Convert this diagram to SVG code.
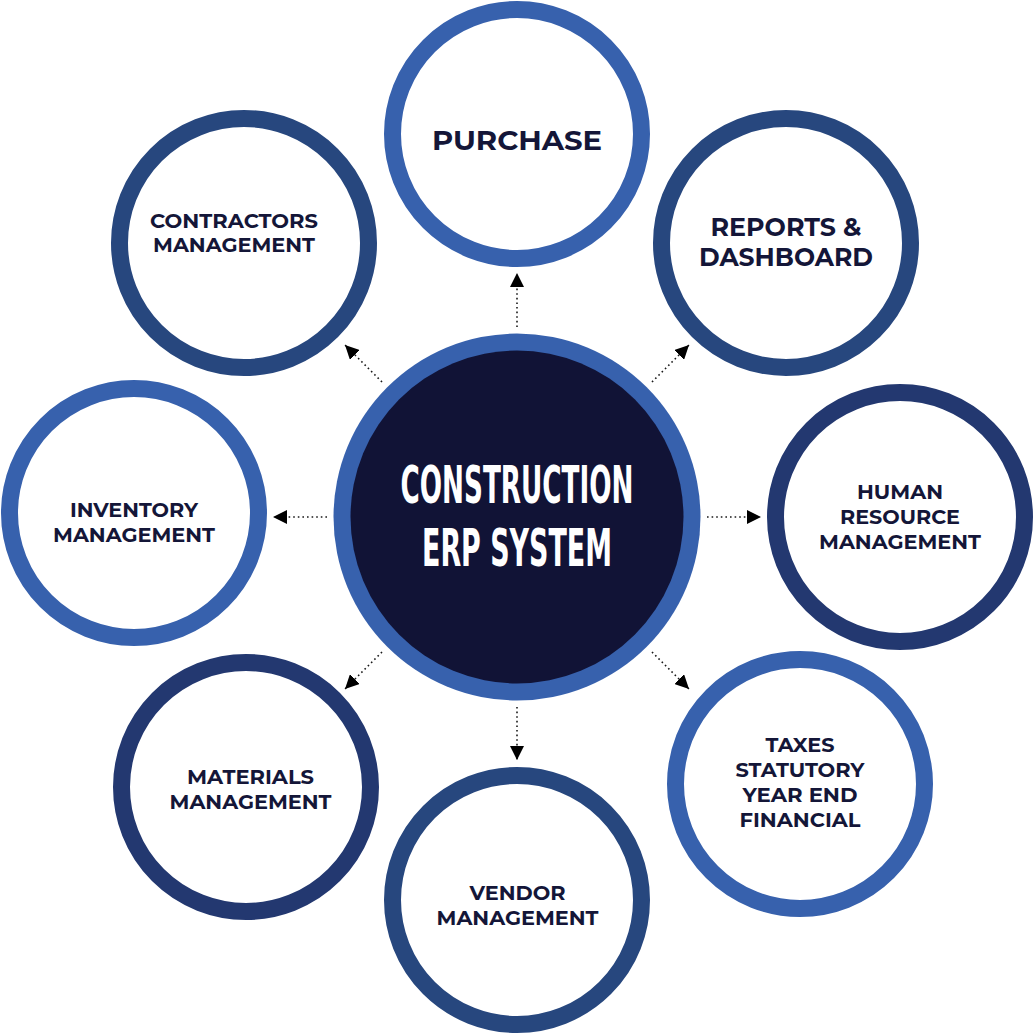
<svg xmlns="http://www.w3.org/2000/svg" width="1034" height="1034" viewBox="0 0 1034 1034">
  <style>
    .ring { fill: #ffffff; stroke-width: 17; }
    .light { stroke: #3761ad; }
    .mid { stroke: #27477e; }
    .dark { stroke: #233870; }
    .lbl { font-family: "Montserrat", "Liberation Sans", "Open Sans", Arial, sans-serif; font-weight: 700; fill: #141638; text-anchor: middle; }
    .s { font-size: 20.5px; }
    .m { font-size: 24.5px; }
    .l { font-size: 28px; }
    .ctr { font-family: "Liberation Sans Narrow", "DejaVu Sans Condensed", "Liberation Sans", sans-serif; font-weight: 700; font-size: 52px; fill: #ffffff; text-anchor: middle; }
    .conn { stroke: #1a1a1a; stroke-width: 1.6; stroke-dasharray: 1.6 3; fill: none; marker-end: url(#arr); }
  </style>
  <defs>
    <marker id="arr" markerUnits="userSpaceOnUse" markerWidth="15" markerHeight="14" refX="14" refY="7" orient="auto">
      <path d="M0,0 L14,7 L0,14 z" fill="#000000"/>
    </marker>
  </defs>
  <rect width="1034" height="1034" fill="#ffffff"/>

  <g id="connectors">
    <line class="conn" x1="517" y1="327" x2="517" y2="273"/>
    <line class="conn" x1="517" y1="707" x2="517" y2="760"/>
    <line class="conn" x1="327" y1="517" x2="273" y2="517"/>
    <line class="conn" x1="707" y1="517" x2="761" y2="517"/>
    <line class="conn" x1="652" y1="382" x2="689" y2="345"/>
    <line class="conn" x1="652" y1="652" x2="689" y2="689"/>
    <line class="conn" x1="382" y1="382" x2="345" y2="345"/>
    <line class="conn" x1="382" y1="652" x2="345" y2="689"/>
  </g>

  <g id="center">
    <circle cx="517" cy="517" r="183.5" fill="#3761ad"/>
    <circle cx="517" cy="517" r="166.5" fill="#111336"/>
    <text class="ctr" x="517" y="503" textLength="233" lengthAdjust="spacingAndGlyphs">CONSTRUCTION</text>
    <text class="ctr" x="517" y="566" textLength="190" lengthAdjust="spacingAndGlyphs">ERP SYSTEM</text>
  </g>

  <g id="purchase">
    <circle class="ring light" cx="517" cy="134" r="124.5"/>
    <text class="lbl l" x="517" y="150" textLength="170" lengthAdjust="spacingAndGlyphs">PURCHASE</text>
  </g>

  <g id="reports">
    <circle class="ring mid" cx="786" cy="243" r="124.5"/>
    <text class="lbl m" x="786" y="236" textLength="151" lengthAdjust="spacingAndGlyphs">REPORTS &amp;</text>
    <text class="lbl m" x="786" y="265.5" textLength="174" lengthAdjust="spacingAndGlyphs">DASHBOARD</text>
  </g>

  <g id="human-resource">
    <circle class="ring dark" cx="900" cy="517" r="124.5"/>
    <text class="lbl s" x="900" y="499" textLength="86" lengthAdjust="spacingAndGlyphs">HUMAN</text>
    <text class="lbl s" x="900" y="524" textLength="120" lengthAdjust="spacingAndGlyphs">RESOURCE</text>
    <text class="lbl s" x="900" y="549" textLength="162" lengthAdjust="spacingAndGlyphs">MANAGEMENT</text>
  </g>

  <g id="taxes">
    <circle class="ring light" cx="800" cy="784" r="124.5"/>
    <text class="lbl s" x="800" y="751.5" textLength="69" lengthAdjust="spacingAndGlyphs">TAXES</text>
    <text class="lbl s" x="800" y="776.5" textLength="129" lengthAdjust="spacingAndGlyphs">STATUTORY</text>
    <text class="lbl s" x="800" y="801.5" textLength="115" lengthAdjust="spacingAndGlyphs">YEAR END</text>
    <text class="lbl s" x="800" y="826.5" textLength="121" lengthAdjust="spacingAndGlyphs">FINANCIAL</text>
  </g>

  <g id="vendor">
    <circle class="ring mid" cx="517" cy="900" r="124.5"/>
    <text class="lbl s" x="517.5" y="900" textLength="96" lengthAdjust="spacingAndGlyphs">VENDOR</text>
    <text class="lbl s" x="517.5" y="925" textLength="162" lengthAdjust="spacingAndGlyphs">MANAGEMENT</text>
  </g>

  <g id="materials">
    <circle class="ring dark" cx="246" cy="787" r="124.5"/>
    <text class="lbl s" x="250.5" y="784" textLength="127" lengthAdjust="spacingAndGlyphs">MATERIALS</text>
    <text class="lbl s" x="250.5" y="809" textLength="162" lengthAdjust="spacingAndGlyphs">MANAGEMENT</text>
  </g>

  <g id="inventory">
    <circle class="ring light" cx="134" cy="513" r="124.5"/>
    <text class="lbl s" x="134" y="516.5" textLength="128" lengthAdjust="spacingAndGlyphs">INVENTORY</text>
    <text class="lbl s" x="134" y="541.5" textLength="162" lengthAdjust="spacingAndGlyphs">MANAGEMENT</text>
  </g>

  <g id="contractors">
    <circle class="ring mid" cx="244" cy="243" r="124.5"/>
    <text class="lbl s" x="234" y="227.5" textLength="168" lengthAdjust="spacingAndGlyphs">CONTRACTORS</text>
    <text class="lbl s" x="234" y="252" textLength="162" lengthAdjust="spacingAndGlyphs">MANAGEMENT</text>
  </g>
</svg>
